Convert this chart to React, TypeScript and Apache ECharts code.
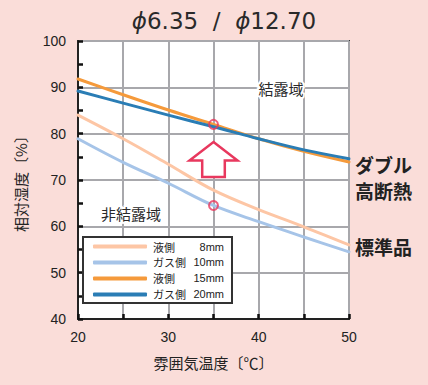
import React, { useEffect, useRef } from "react";
import * as echarts from "echarts";

const temps = [20, 25, 30, 35, 40, 45, 50];
const liquid8 = [84.0, 78.9, 73.4, 67.8, 63.6, 59.9, 56.0];
const gas10 = [78.9, 73.8, 69.3, 64.5, 61.0, 57.7, 54.5];
const liquid15 = [91.8, 88.4, 85.1, 82.0, 78.9, 76.2, 73.9];
const gas20 = [89.2, 86.6, 84.0, 81.5, 78.9, 76.5, 74.6];
const seriesNames = ["液側 8mm", "ガス側 10mm", "液側 15mm", "ガス側 20mm"];
const seriesColors = ["#FDC6A5", "#A6C4E8", "#F59A3B", "#2A7DB5"];
const markedPoints: [number, number][] = [
  [35, 82.0],
  [35, 64.5],
];
const xTickLabels = [20, 30, 40, 50];
const yTickLabels = [40, 50, 60, 70, 80, 90, 100];

const FONT = "'Liberation Sans', 'Noto Sans CJK JP', sans-serif";
const JP = "'Noto Sans CJK JP', sans-serif";
const PINK = "#E8385E";

export default function App() {
  const ref = useRef<HTMLDivElement>(null);
  useEffect(() => {
    if (!ref.current) return;
    const chart = echarts.init(ref.current, undefined, { renderer: "svg" });
    const allSeries = [liquid8, gas10, liquid15, gas20];
    const option: any = {
      animation: false,
      backgroundColor: "#FADDD9",
      textStyle: { fontFamily: FONT },
      grid: {
        left: 78,
        top: 41,
        right: 79,
        bottom: 66,
        show: true,
        backgroundColor: "#ffffff",
        borderColor: "#3a3a3a",
        borderWidth: 2,
      },
      xAxis: {
        type: "value",
        min: 20,
        max: 50,
        interval: 5,
        name: "雰囲気温度〔℃〕",
        nameLocation: "middle",
        nameGap: 36,
        nameTextStyle: { fontFamily: JP, fontSize: 15, color: "#222" },
        axisLine: { lineStyle: { color: "#222", width: 2 } },
        axisTick: { inside: true, length: 5, lineStyle: { color: "#111", width: 2.5 } },
        axisLabel: {
          margin: 11,
          fontSize: 14,
          color: "#222",
          formatter: (v: number) => (xTickLabels.includes(v) ? String(v) : ""),
        },
        splitLine: { show: true, lineStyle: { color: "#A8A8AC", width: 2 } },
      },
      yAxis: {
        type: "value",
        min: 40,
        max: 100,
        interval: 10,
        name: "相対湿度〔%〕",
        nameLocation: "middle",
        nameRotate: 90,
        nameGap: 50,
        nameTextStyle: { fontFamily: JP, fontSize: 15, color: "#222" },
        axisLine: { show: true, lineStyle: { color: "#222", width: 2 } },
        axisTick: { show: true, inside: true, length: 5, lineStyle: { color: "#111", width: 2.5 } },
        minorTick: { show: true, splitNumber: 2, length: 5, lineStyle: { color: "#111", width: 2.5 } },
        axisLabel: {
          margin: 12,
          fontSize: 14,
          color: "#222",
          formatter: (v: number) => (yTickLabels.includes(v) ? String(v) : ""),
        },
        splitLine: { show: true, lineStyle: { color: "#A8A8AC", width: 2 } },
      },
      legend: {
        orient: "vertical",
        left: 83,
        top: 237,
        data: seriesNames,
        backgroundColor: "#ffffff",
        borderColor: "#333",
        borderWidth: 2,
        borderRadius: 0,
        padding: [4, 8, 3, 10],
        itemGap: 5,
        itemWidth: 54,
        itemHeight: 4,
        icon: "roundRect",
        formatter: (name: string) => {
          const [a, b] = name.split(" ");
          return `{a|${a}}{b|${b}}`;
        },
        textStyle: {
          fontFamily: FONT,
          color: "#222",
          padding: [0, 0, 0, 1],
          rich: {
            a: { width: 40, fontSize: 11, fontFamily: JP, color: "#222" },
            b: { width: 31, fontSize: 11, align: "right", fontFamily: FONT, color: "#222" },
          },
        },
      },
      series: [
        ...allSeries.map((vals, i) => ({
          name: seriesNames[i],
          type: "line",
          data: temps.map((t, j) => [t, vals[j]]),
          smooth: 0.35,
          showSymbol: false,
          symbol: "none",
          lineStyle: { color: seriesColors[i], width: 3, cap: "round" },
          itemStyle: { color: seriesColors[i] },
          z: 2 + i,
        })),
        {
          name: "marks",
          type: "scatter",
          data: markedPoints,
          symbol: "circle",
          symbolSize: 9,
          itemStyle: { color: "rgba(0,0,0,0)", borderColor: PINK, borderWidth: 2 },
          z: 10,
        },
      ],
    };
    chart.setOption(option);

    // arrow anchored at data coordinates (35, 78.2)
    const tip = chart.convertToPixel({ gridIndex: 0 }, [35, 78.2]) as number[];
    const cx = tip[0];
    const ty = tip[1];
    const headH = 18.5;
    const headW = 24;
    const shaftW = 11.3;
    const total = 35;
    const arrowPts = [
      [cx, ty],
      [cx + headW, ty + headH],
      [cx + shaftW, ty + headH],
      [cx + shaftW, ty + total],
      [cx - shaftW, ty + total],
      [cx - shaftW, ty + headH],
      [cx - headW, ty + headH],
    ];

    const haloText = (text: string, x: number, y: number, size: number) => [
      {
        type: "text",
        x,
        y,
        z: 20,
        style: {
          text,
          fill: "#fff",
          stroke: "#fff",
          lineWidth: 4,
          font: `${size}px ${JP}`,
          textAlign: "center",
          textVerticalAlign: "middle",
        },
      },
      {
        type: "text",
        x,
        y,
        z: 21,
        style: {
          text,
          fill: "#2a2a2a",
          font: `${size}px ${JP}`,
          textAlign: "center",
          textVerticalAlign: "middle",
        },
      },
    ];

    const sideLabel = (text: string, y: number) => ({
      type: "text",
      x: 355,
      y,
      style: {
        text,
        fill: "#222",
        font: `bold 19px ${JP}`,
        textAlign: "left",
        textVerticalAlign: "middle",
      },
    });

    chart.setOption({
      graphic: [
        {
          type: "text",
          x: 224,
          y: 21,
          style: {
            text: "{p|ϕ}6.35  /  {p|ϕ}12.70",
            fill: "#2a2a2a",
            font: `23px 'DejaVu Sans', sans-serif`,
            textAlign: "center",
            textVerticalAlign: "middle",
            rich: {
              p: {
                fontStyle: "italic",
                fontSize: 23,
                fontFamily: "'DejaVu Sans', sans-serif",
                fill: "#2a2a2a",
              },
            },
          },
        },
        {
          type: "polygon",
          z: 15,
          shape: { points: arrowPts },
          style: { fill: "#ffffff", stroke: PINK, lineWidth: 2.5 },
        },
        ...haloText("結露域", 281, 88, 15),
        ...haloText("非結露域", 131, 213, 15),
        sideLabel("ダブル", 164),
        sideLabel("高断熱", 190),
        sideLabel("標準品", 246),
      ],
    });
    return () => chart.dispose();
  }, []);
  return (
    <div
      ref={ref}
      style={{ position: "fixed", left: 0, top: 0, width: 428, height: 385 }}
    />
  );
}
